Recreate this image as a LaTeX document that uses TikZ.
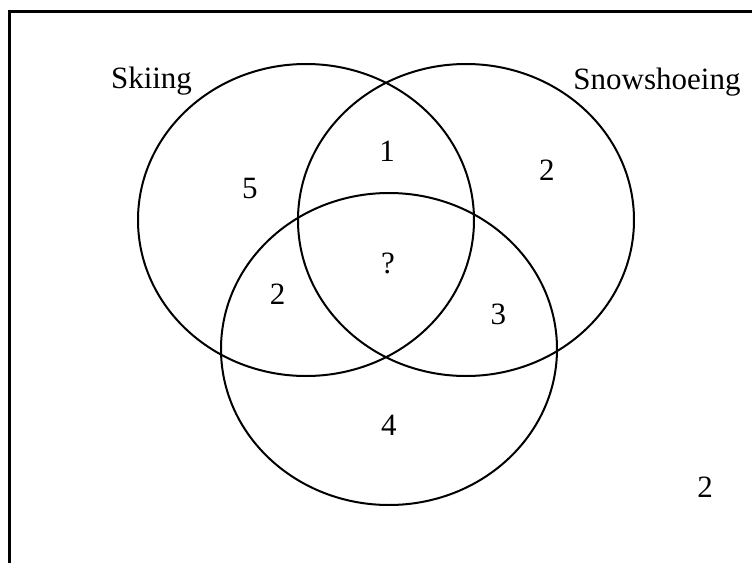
\documentclass[tikz,border=0pt]{standalone}
\usepackage{fontspec}
\setmainfont{Liberation Serif}
\usetikzlibrary{shapes.geometric}

\begin{document}
\begin{tikzpicture}[x=0.5pt, y=-0.5pt,
  setring/.style={ellipse, draw, line width=1pt, minimum width=168pt,
                  minimum height=156pt, inner sep=0pt},
  lbl/.style={anchor=base, inner sep=0pt, font=\fontsize{15.5}{18}\selectfont},
  frame/.style={line width=1.5pt}
]
\useasboundingbox (0,0) rectangle (752,563);

% frame, only its top and left edges are in view
\coordinate (tl) at (10,11);
\coordinate (tr) at (752,11);
\coordinate (bl) at (10,563);
\draw[frame] (tr) -- (tl) -- (bl);

% the three sets
\node[setring] (ski)  at (306,220) {};
\node[setring] (snow) at (466,220) {};
\node[setring] (low)  at (389,349) {};

\node[lbl] (skilbl)  at (151.5,88) {Skiing};
\node[lbl] (snowlbl) at (657,89) {Snowshoeing};

% counts
\node[lbl] (nski)  at (250,198) {5};
\node[lbl] (nss)   at (387,161) {1};
\node[lbl] (nsnow) at (547,180) {2};
\node[lbl] (nall)  at (388,273) {?};
\node[lbl] (nsl)   at (277.5,304) {2};
\node[lbl] (nnl)   at (498.5,324) {3};
\node[lbl] (nlow)  at (389,435) {4};
\node[lbl] (nout)  at (705,497) {2};

\end{tikzpicture}
\end{document}
